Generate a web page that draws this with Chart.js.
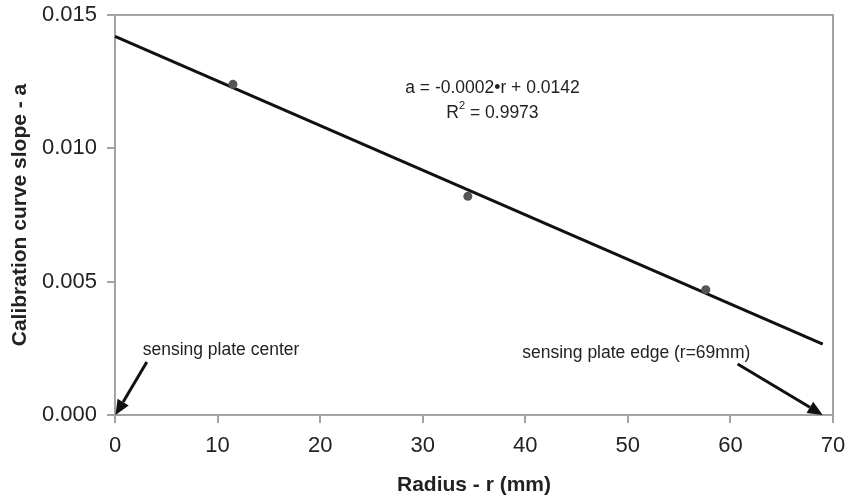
<!DOCTYPE html>
<html>
<head>
<meta charset="utf-8">
<script src="https://cdn.jsdelivr.net/npm/chart.js@4.4.1/dist/chart.umd.min.js"></script>
<style>
  html, body { margin: 0; padding: 0; background: #fff; }
  #wrap { width: 848px; height: 500px; }
</style>
</head>
<body>
<div id="wrap"><canvas id="chart"></canvas></div>
<script>
//---------------------------------- Data ----------------------------------//
const radius = [11.5, 34.4, 57.6];
const slope = [0.0124, 0.0082, 0.0047];

// trend line end points
const trend_x = [0, 69];
const trend_y = [0.0142, 0.00266];

const x_ticks = [0, 10, 20, 30, 40, 50, 60, 70];
const y_ticks = [0, 0.005, 0.010, 0.015];

const equation_text = 'a = -0.0002\u2022r + 0.0142';
const r2_text = ' = 0.9973';

// annotation arrows [x_from, y_from, x_to, y_to] in data units
const arrow_center = [3.1, 0.00199, 0.05, 0.0];
const arrow_edge = [60.7, 0.00191, 69, 0.0];
const label_center = 'sensing plate center';
const label_edge = 'sensing plate edge (r=69mm)';

//---------------------------------- Settings ----------------------------------//
const font_family = 'Arial, "Liberation Sans", sans-serif';
const text_color = '#222';
const axis_color = '#a3a3a3';

//---------------------------------- Helpers ----------------------------------//
function drawArrow(ctx, x1, y1, x2, y2) {
    var ang = Math.atan2(y2 - y1, x2 - x1);
    var head = 15, half = 6.5;
    var bx = x2 - head * Math.cos(ang);
    var by = y2 - head * Math.sin(ang);
    ctx.beginPath();
    ctx.moveTo(x1, y1);
    ctx.lineTo(bx, by);
    ctx.stroke();
    ctx.beginPath();
    ctx.moveTo(x2, y2);
    ctx.lineTo(bx + half * Math.sin(ang), by - half * Math.cos(ang));
    ctx.lineTo(bx - half * Math.sin(ang), by + half * Math.cos(ang));
    ctx.closePath();
    ctx.fill();
}

// no automatic padding for overflowing tick labels, layout.padding decides
function noPad(s) {
    s.paddingTop = 0;
    s.paddingBottom = 0;
    s.paddingLeft = 0;
    s.paddingRight = 0;
}

const annotations = {
    id: 'annotations',
    beforeDatasetsDraw(chart) {
        var a = chart.chartArea, ctx = chart.ctx;
        ctx.save();
        ctx.strokeStyle = axis_color;
        ctx.lineWidth = 2;
        ctx.beginPath();
        ctx.moveTo(a.left, a.top);
        ctx.lineTo(a.right, a.top);
        ctx.lineTo(a.right, a.bottom);
        ctx.stroke();
        ctx.restore();
    },
    afterDatasetsDraw(chart) {
        var ctx = chart.ctx;
        var xs = chart.scales.x, ys = chart.scales.y;
        ctx.save();
        ctx.strokeStyle = '#111';
        ctx.fillStyle = '#111';
        ctx.lineWidth = 3;
        [arrow_center, arrow_edge].forEach(function (ar) {
            drawArrow(ctx, xs.getPixelForValue(ar[0]), ys.getPixelForValue(ar[1]),
                xs.getPixelForValue(ar[2]), ys.getPixelForValue(ar[3]));
        });

        ctx.fillStyle = text_color;
        ctx.textBaseline = 'middle';
        ctx.font = '17.5px ' + font_family;
        ctx.textAlign = 'left';
        ctx.fillText(label_center, xs.getPixelForValue(2.7), ys.getPixelForValue(0.00244));
        ctx.fillText(label_edge, xs.getPixelForValue(39.7), ys.getPixelForValue(0.00233));

        // trend line equation
        var cx = xs.getPixelForValue(36.8);
        ctx.textAlign = 'center';
        ctx.fillText(equation_text, cx, ys.getPixelForValue(0.01226));
        var y2 = ys.getPixelForValue(0.01133);
        var wR = ctx.measureText('R').width;
        var wRest = ctx.measureText(r2_text).width;
        ctx.font = '11px ' + font_family;
        var wSup = ctx.measureText('2').width;
        var start = cx - (wR + wSup + wRest) / 2;
        ctx.textAlign = 'left';
        ctx.fillText('2', start + wR, y2 - 7);
        ctx.font = '17.5px ' + font_family;
        ctx.fillText('R', start, y2);
        ctx.fillText(r2_text, start + wR + wSup, y2);
        ctx.restore();
    }
};

//---------------------------------- Chart ----------------------------------//
var chart = new Chart(document.getElementById('chart'), {
    type: 'scatter',
    data: {
        datasets: [{
            label: 'measured',
            data: radius.map((r, i) => ({x: r, y: slope[i]})),
            pointRadius: 4.5,
            pointBackgroundColor: '#555',
            pointBorderWidth: 0,
            showLine: false
        }, {
            label: 'trend',
            data: trend_x.map((r, i) => ({x: r, y: trend_y[i]})),
            showLine: true,
            borderColor: '#111',
            borderWidth: 3,
            pointRadius: 0,
            clip: false
        }]
    },
    options: {
        responsive: true,
        maintainAspectRatio: false,
        animation: false,
        layout: { padding: { top: 15, right: 15, left: 0, bottom: 0 } },
        plugins: { legend: { display: false }, tooltip: { enabled: false } },
        scales: {
            x: {
                type: 'linear',
                min: 0,
                max: 70,
                afterBuildTicks: s => { s.ticks = x_ticks.map(v => ({value: v})); },
                afterFit: s => { s.height = 85; noPad(s); },
                grid: { drawOnChartArea: false, tickLength: 8, color: axis_color, lineWidth: 2 },
                border: { color: axis_color, width: 2 },
                ticks: { color: text_color, padding: 10, font: { size: 22, family: font_family } },
                title: {
                    display: true,
                    text: 'Radius - r (mm)',
                    color: text_color,
                    padding: { top: 0, bottom: 2 },
                    font: { size: 21, weight: 'bold', family: font_family }
                }
            },
            y: {
                min: 0,
                max: 0.015,
                afterBuildTicks: s => { s.ticks = y_ticks.map(v => ({value: v})); },
                afterFit: s => { s.width = 115; noPad(s); },
                grid: { drawOnChartArea: false, tickLength: 8, color: axis_color, lineWidth: 2 },
                border: { color: axis_color, width: 2 },
                ticks: {
                    color: text_color,
                    padding: 10,
                    font: { size: 22, family: font_family },
                    callback: v => v.toFixed(3)
                },
                title: {
                    display: true,
                    text: 'Calibration curve slope - a',
                    color: text_color,
                    padding: { top: 8, bottom: 0 },
                    font: { size: 21, weight: 'bold', family: font_family }
                }
            }
        }
    },
    plugins: [annotations]
});
</script>
</body>
</html>
